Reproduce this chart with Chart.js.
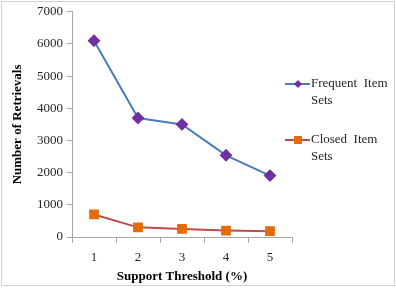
<!DOCTYPE html>
<html>
<head>
<meta charset="utf-8">
<script src="https://cdn.jsdelivr.net/npm/chart.js@4"></script>
<style>
  html, body { margin: 0; padding: 0; background: #fff; }
  #wrap { width: 396px; height: 288px; }
</style>
</head>
<body>
<div id="wrap"><canvas id="chart" width="396" height="288"></canvas></div>
<script>
// chart values
const thresholds = ['1', '2', '3', '4', '5'];
const frequentItemSets = [6100, 3700, 3500, 2540, 1910];
const closedItemSets = [700, 300, 250, 200, 180];
const yTicks = [0, 1000, 2000, 3000, 4000, 5000, 6000, 7000];

const serif = '"Liberation Serif", "Times New Roman", serif';
const axisGray = '#a6a6a6';

// legend with wrapped labels, drawn to the right of the plot
const sideLegend = {
  id: 'sideLegend',
  afterDraw(chart) {
    const ctx = chart.ctx;
    const items = [
      { lines: ['Frequent  Item', 'Sets'], y: 84, line: '#4a7ebb', mark: '#7030a0', shape: 'diamond' },
      { lines: ['Closed  Item', 'Sets'], y: 140, line: '#be4b48', mark: '#e36c0a', shape: 'square' }
    ];
    ctx.save();
    items.forEach(it => {
      ctx.strokeStyle = it.line;
      ctx.lineWidth = 2;
      ctx.beginPath();
      ctx.moveTo(285, it.y);
      ctx.lineTo(310, it.y);
      ctx.stroke();
      ctx.fillStyle = it.mark;
      if (it.shape === 'diamond') {
        ctx.beginPath();
        ctx.moveTo(298, it.y - 4);
        ctx.lineTo(302, it.y);
        ctx.lineTo(298, it.y + 4);
        ctx.lineTo(294, it.y);
        ctx.closePath();
        ctx.fill();
      } else {
        ctx.fillRect(294, it.y - 4, 8, 8);
      }
      ctx.fillStyle = '#262626';
      ctx.font = '13px ' + serif;
      ctx.textBaseline = 'middle';
      ctx.textAlign = 'left';
      it.lines.forEach((t, i) => ctx.fillText(t, 311, it.y + i * 17));
    });
    // light frame round the picture
    ctx.strokeStyle = '#d0d0d0';
    ctx.lineWidth = 1;
    ctx.strokeRect(1.5, 1.5, 393, 284);
    ctx.restore();
  }
};

new Chart(document.getElementById('chart'), {
  type: 'line',
  data: {
    labels: thresholds,
    datasets: [{
      label: 'Frequent Item Sets',
      data: frequentItemSets,
      borderColor: '#4a7ebb',
      borderWidth: 2,
      pointStyle: 'rectRot',
      pointRadius: 5,
      pointBackgroundColor: '#7030a0',
      pointBorderColor: '#7030a0',
      tension: 0
    }, {
      label: 'Closed Item Sets',
      data: closedItemSets,
      borderColor: '#be4b48',
      borderWidth: 2,
      pointStyle: 'rect',
      pointRadius: 5.5,
      pointBackgroundColor: '#e36c0a',
      pointBorderColor: '#e36c0a',
      tension: 0
    }]
  },
  options: {
    responsive: false,
    animation: false,
    layout: { padding: { left: 6, right: 104, top: 7, bottom: 0 } },
    plugins: {
      legend: { display: false },
      tooltip: { enabled: false }
    },
    scales: {
      x: {
        offset: true,
        grid: { display: true, drawOnChartArea: false, offset: true, tickLength: 6, color: axisGray },
        border: { color: axisGray, width: 1 },
        ticks: { color: '#262626', font: { family: serif, size: 13 }, padding: 7 },
        title: { display: true, text: 'Support Threshold (%)', color: '#000', font: { family: serif, size: 13, weight: 'bold' }, padding: { top: 5 } },
        afterFit: s => { s.height = 51; }
      },
      y: {
        min: 0,
        max: 7000,
        afterBuildTicks: s => { s.ticks = yTicks.map(v => ({ value: v })); },
        grid: { display: true, drawOnChartArea: false, tickLength: 5, color: axisGray },
        border: { color: axisGray, width: 1 },
        ticks: { color: '#262626', font: { family: serif, size: 13 }, padding: 4, callback: v => String(v) },
        title: { display: true, text: 'Number of Retrievals', color: '#000', font: { family: serif, size: 13, weight: 'bold' }, padding: { bottom: 4 } },
        afterFit: s => { s.width = 66; }
      }
    }
  },
  plugins: [sideLegend]
});
</script>
</body>
</html>
